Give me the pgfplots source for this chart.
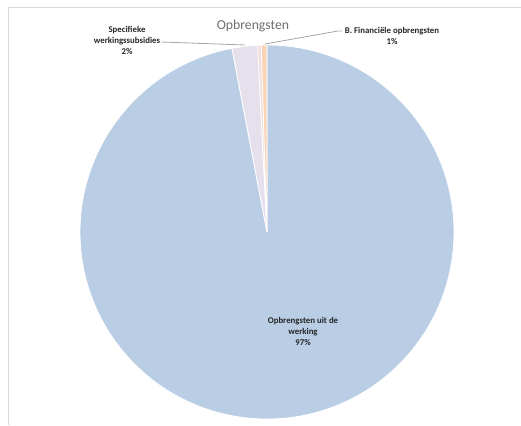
\documentclass[border=0pt]{standalone}
\usepackage{pgfplots}
\pgfplotsset{compat=1.18}
\usepackage{pgfplotstable}
\usepackage{fontspec}
\setmainfont{Carlito}

\definecolor{werking}{HTML}{B9CDE5}
\definecolor{subsidies}{HTML}{E6E0EC}
\definecolor{overig}{HTML}{F2DCDB}
\definecolor{financieel}{HTML}{FAD3B8}
\definecolor{titlegray}{HTML}{6E6E6E}
\definecolor{framegray}{HTML}{D9D9D9}

\tikzset{labelstyle/.style={font=\fontsize{6.6}{8.25}\selectfont\bfseries,
    text=black!85, align=center, inner sep=0pt}}

% share of each slice in percent, clockwise from 12 o'clock
\pgfplotstableread[col sep=comma]{
label,value
werking,97.0
subsidies,2.2
overig,0.3
financieel,0.5
}\piedata

\begin{document}
\begin{tikzpicture}
\begin{axis}[
    width=390.75pt, height=318.75pt, scale only axis,
    xmin=0, xmax=521, ymin=0, ymax=425,
    hide axis, clip=false,
]
% chart frame
\draw[framegray, line width=0.75pt] (axis cs:8,0) -- (axis cs:8,417) -- (axis cs:521,417);

% slices
\xdef\angstart{90}
\foreach \i/\col in {0/werking,1/subsidies,2/overig,3/financieel} {
    \pgfplotstablegetelem{\i}{value}\of\piedata
    \pgfmathsetmacro{\angstop}{\angstart - 3.6*\pgfplotsretval}
    \edef\temp{\noexpand\fill[\col, draw=white, line width=0.6pt]
        (axis cs:267,193) -- ++(\angstart:140.25pt)
        arc[start angle=\angstart, end angle=\angstop, radius=140.25pt] -- cycle;}
    \temp
    \xdef\angstart{\angstop}
}

% title
\node[font=\fontsize{10.3}{12}\selectfont, text=titlegray] at (axis cs:253,399) {Opbrengsten};

% leader lines
\draw[gray!70, line width=0.6pt] (axis cs:161,383) -- (axis cs:245,380);
\draw[gray!70, line width=0.6pt] (axis cs:265,381) -- (axis cs:338,394) -- (axis cs:342,394);

% data labels
\node[labelstyle] at (axis cs:127,385) {Specifieke\\werkingssubsidies\\2\%};
\node[labelstyle] at (axis cs:392,389) {B. Financiële opbrengsten\\1\%};
\node[labelstyle] at (axis cs:303,94) {Opbrengsten uit de\\werking\\97\%};
\end{axis}
\pgfresetboundingbox
\path[use as bounding box] (0,0) rectangle (390.75pt,318.75pt);
\end{tikzpicture}
\end{document}
